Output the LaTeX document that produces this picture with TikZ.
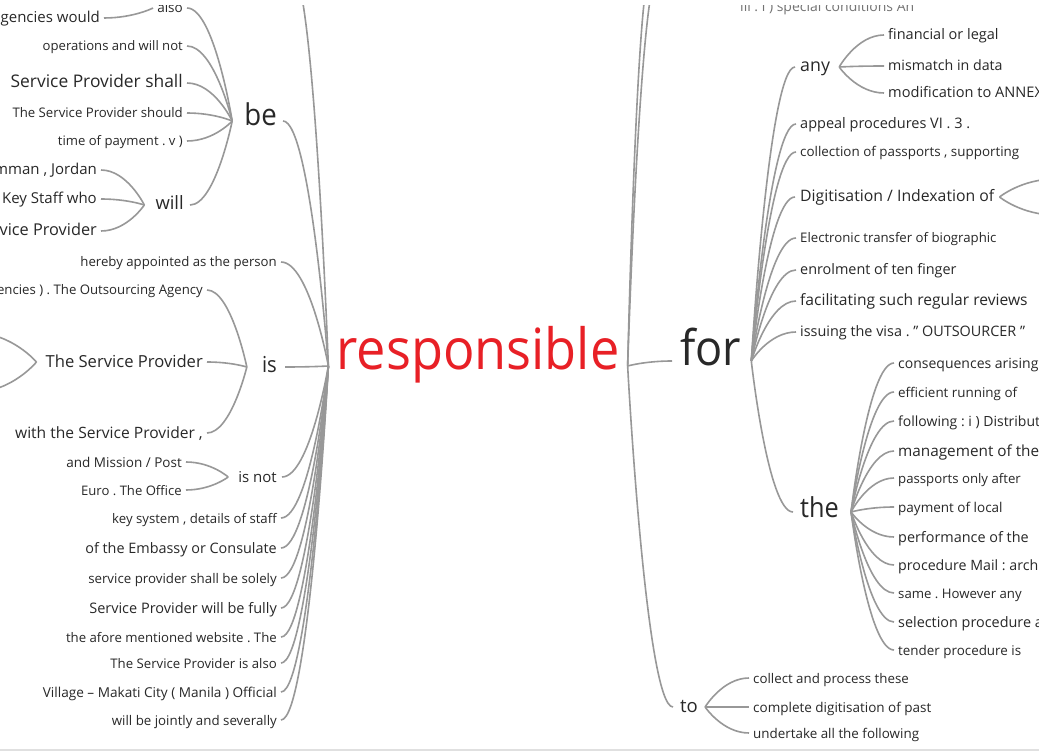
\documentclass[tikz,border=0pt]{standalone}
\usepackage{fontspec}
\setmainfont{Open Sans}
\newfontfamily\bigf{Open Sans}[FakeStretch=0.92]
\usetikzlibrary{calc}
\definecolor{txt}{RGB}{40,40,40}
\definecolor{edgec}{RGB}{152,152,152}
\definecolor{hl}{RGB}{232,32,38}
\newcommand\fsz[1]{\fontsize{#1pt}{#1pt}\selectfont}
\newcommand\lk[3][0.6]{\draw[edge] let \p1=(#2), \p2=(#3) in (\p1) .. controls (\p1) and ({\x2+#1*(\x1-\x2)},\y2) .. (\p2);}
\frenchspacing
\tikzset{
 edge/.style={draw=edgec, line width=1.6pt},
 wd/.style={font=\fsz{#1}\frenchspacing, text=txt, inner xsep=4pt, inner ysep=0pt, text height=1.05em, text depth=0.05em},
 bw/.style={font=\bigf\fsz{#1}, text=txt, inner xsep=7pt, inner ysep=0pt, text height=1.05em, text depth=0.05em},
 lw/.style={wd=#1, anchor=base east},
 rw/.style={wd=#1, anchor=base west},
 lb/.style={bw=#1, anchor=base east},
 rb/.style={bw=#1, anchor=base west},
}
\begin{document}
\begin{tikzpicture}[x=1pt,y=-1pt]
\useasboundingbox (0,0) rectangle (1039,751);
\fill[white] (0,0) rectangle (1039,751);
\fill[black!12] (0,748.5) rectangle (1039,751);
\clip (0,6) rectangle (1039,748);
% centre
\node[font=\bigf\fsz{56.8}, text=hl, inner xsep=8pt, inner ysep=0pt, text height=0.85em, text depth=0.05em, anchor=base] (resp) at (478,370) {responsible};
% ---------- left side ----------
\node[lb=30, inner xsep=6pt] (be) at (283,126) {be};
\node[lw=13.5] (also) at (187,13) {also};
\node[lw=15] (agen) at (104,23) {agencies would};
\node[lw=13.1] (oper) at (187,51) {operations and will not};
\node[lw=17.4] (sps) at (187,88) {Service Provider shall};
\node[lw=13.2] (tsps) at (187,118) {The Service Provider should};
\node[lw=13.1] (time) at (187,146) {time of payment . v )};
\node[lw=18.4, inner xsep=6pt] (will) at (190,210) {will};
\node[lw=15] (amman) at (101,175) {Amman , Jordan};
\node[lw=15] (key) at (101,204) {Key Staff who};
\node[lw=16.3] (vsp) at (101,236) {Service Provider};
\coordinate (upL) at (292,-30);
\node[lw=13.2] (here) at (281,267) {hereby appointed as the person};
\node[lb=22, inner xsep=8pt] (is) at (285,372) {is};
\node[lw=13.2] (cies) at (207,295) {Agencies ) . The Outsourcing Agency};
\node[lw=16.6] (tsp) at (207,367) {The Service Provider};
\coordinate (tspa) at (-25,333);
\coordinate (tspb) at (-25,392);
\node[lw=15.6] (wsp) at (207,438) {with the Service Provider ,};
\node[lw=15, inner xsep=5pt] (isnot) at (282,482) {is not};
\node[lw=13.5] (mission) at (186,467) {and Mission / Post};
\node[lw=13.1] (euro) at (186,495) {Euro . The Office};
\node[lw=13.2] (keys) at (281,523) {key system , details of staff};
\node[lw=14.4] (emb) at (281,553) {of the Embassy or Consulate};
\node[lw=13.3] (solely) at (281,583) {service provider shall be solely};
\node[lw=14.5] (fully) at (281,613) {Service Provider will be fully};
\node[lw=13.2] (afore) at (281,642) {the afore mentioned website . The};
\node[lw=13.2] (isalso) at (281,668) {The Service Provider is also};
\node[lw=13.6] (vill) at (281,697) {Village – Makati City ( Manila ) Official};
\node[lw=13.3] (joint) at (281,725) {will be jointly and severally};
% ---------- right side ----------
\coordinate (upR1) at (651,-30);
\coordinate (upR2) at (659,-30);
\node[rw=14, text=black!55] (spec) at (736,12) {iii . i ) special conditions An};
\node[rb=49, inner xsep=8pt] (for) at (672,366) {for};
\node[rw=18.5, inner xsep=7pt] (to) at (673,712) {to};
\node[rw=17.8, inner xsep=5pt] (any) at (795,72) {any};
\node[rw=14.5] (fin) at (884,40) {financial or legal};
\node[rw=14.2] (mis) at (884,71) {mismatch in data};
\node[rw=14.6] (mod) at (884,98) {modification to ANNEX};
\node[rw=14.5] (appeal) at (796,129) {appeal procedures VI . 3 .};
\node[rw=13.4] (coll) at (796,157) {collection of passports , supporting};
\node[rw=15.8, inner xsep=5pt] (digi) at (795,202) {Digitisation / Indexation of};
\coordinate (digia) at (1055,179);
\coordinate (digib) at (1055,215);
\node[rw=13.2] (elec) at (796,243) {Electronic transfer of biographic};
\node[rw=14.4] (enrol) at (796,275) {enrolment of ten finger};
\node[rw=15.6] (facil) at (796,306) {facilitating such regular reviews};
\node[rw=14.4] (issu) at (796,337) {issuing the visa . \symbol{34} OUTSOURCER \symbol{34}};
\node[rb=27.5] (the) at (793,517) {the};
\node[rw=14] (cons) at (894,368) {consequences arising};
\node[rw=13.4] (effi) at (894,397) {efficient running of};
\node[rw=14] (foll) at (894,426) {following : i ) Distribution};
\node[rw=15.3] (mana) at (894,456) {management of the};
\node[rw=13.2] (pass) at (894,483) {passports only after};
\node[rw=13.5] (paym) at (894,512) {payment of local};
\node[rw=14.4] (perf) at (894,542) {performance of the};
\node[rw=14.2] (proc) at (894,570) {procedure Mail : archiving};
\node[rw=13.2] (same) at (894,598) {same . However any};
\node[rw=14.4] (sele) at (894,627) {selection procedure and};
\node[rw=13.4] (tend) at (894,655) {tender procedure is};
\node[rw=13.3] (coll2) at (749,683) {collect and process these};
\node[rw=13.5] (comp) at (749,712) {complete digitisation of past};
\node[rw=13.4] (unde) at (749,738) {undertake all the following};
% ---------- connectors ----------
\foreach \c in {be,upL,here,is,isnot,keys,emb,solely,fully,afore,isalso,vill,joint}{\lk{resp.west}{\c.east}}
\foreach \c in {also,oper,sps,tsps,time,will}{\lk{[xshift=-6pt]be.west}{\c.east}}
\lk{also.west}{agen.east}
\foreach \c in {amman,key,vsp}{\lk{[xshift=-5pt]will.west}{\c.east}}
\foreach \c in {cies,tsp,wsp}{\lk{[xshift=-7pt]is.west}{\c.east}}
\lk{[xshift=-5pt]tsp.west}{tspa}
\lk{[xshift=-5pt]tsp.west}{tspb}
\foreach \c in {mission,euro}{\lk{[xshift=-5pt]isnot.west}{\c.east}}
\foreach \c in {upR1,upR2,for,to}{\lk{resp.east}{\c.west}}
\foreach \c in {any,appeal,coll,digi,elec,enrol,facil,issu,the}{\lk{[xshift=2pt]for.east}{\c.west}}
\foreach \c in {fin,mis,mod}{\lk{[xshift=4pt]any.east}{\c.west}}
\lk{digi.east}{digia}
\lk{digi.east}{digib}
\foreach \c in {cons,effi,foll,mana,pass,paym,perf,proc,same,sele,tend}{\lk{[xshift=5pt]the.east}{\c.west}}
\foreach \c in {coll2,comp,unde}{\lk{to.east}{\c.west}}
\end{tikzpicture}
\end{document}
